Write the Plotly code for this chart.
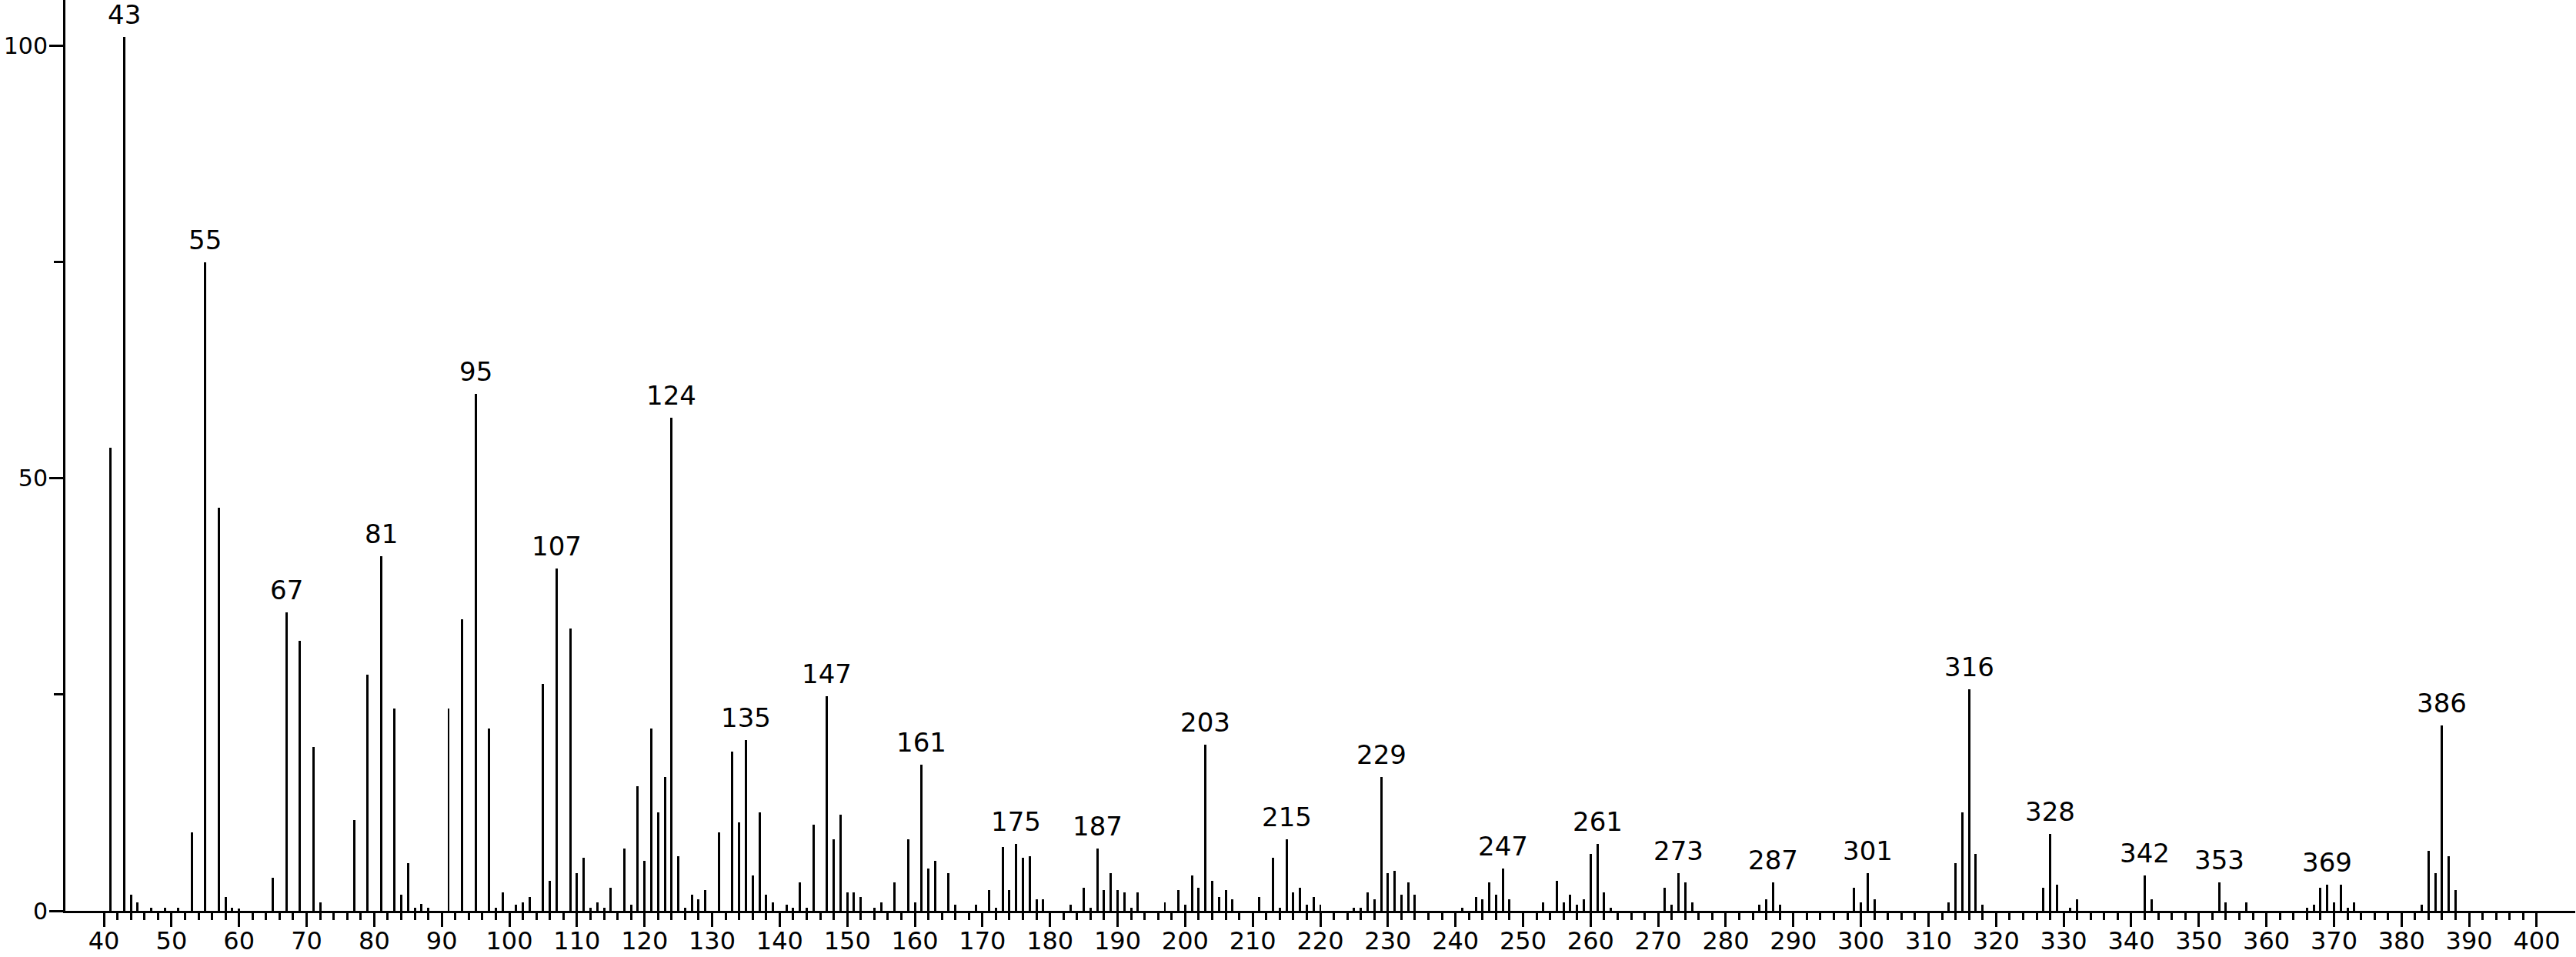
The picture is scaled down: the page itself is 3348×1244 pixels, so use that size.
"""Mass spectrum stick plot (EI, m/z 40-400)."""

import plotly.graph_objects as go

_INK = "black"
_FONT = "DejaVu Sans"

# m/z values and relative intensities (%)
mz = [
    41, 43, 44, 45, 47, 49, 51, 53, 55, 57, 58, 59, 60,
    65, 67, 69, 71, 72, 77, 79, 81, 83, 84, 85, 86, 87, 88,
    91, 93, 95, 97, 98, 99, 101, 102, 103, 105, 106, 107, 109,
    110, 111, 112, 113, 114, 115, 117, 118, 119, 120, 121, 122, 123,
    124, 125, 126, 127, 128, 129, 131, 133, 134, 135, 136, 137, 138,
    139, 141, 142, 143, 144, 145, 147, 148, 149, 150, 151, 152, 154,
    155, 157, 159, 160, 161, 162, 163, 165, 166, 169, 171, 172, 173,
    174, 175, 176, 177, 178, 179, 183, 185, 186, 187, 188, 189, 190,
    191, 192, 193, 197, 199, 200, 201, 202, 203, 204, 205, 206, 207,
    211, 213, 214, 215, 216, 217, 218, 219, 220, 225, 226, 227, 228,
    229, 230, 231, 232, 233, 234, 241, 243, 244, 245, 246, 247, 248,
    253, 255, 256, 257, 258, 259, 260, 261, 262, 263, 271, 272, 273,
    274, 275, 285, 286, 287, 288, 299, 300, 301, 302, 313, 314, 315,
    316, 317, 318, 327, 328, 329, 331, 332, 342, 343, 353, 354, 357,
    366, 367, 368, 369, 370, 371, 372, 373, 383, 384, 385, 386, 387, 388,
]
intensity = [
    53.5, 101.0, 1.9, 1.0, 0.4, 0.4, 0.4, 9.1, 75.0, 46.6, 1.6, 0.4, 0.3,
    3.8, 34.5, 31.2, 18.9, 1.0, 10.5, 27.3, 41.0, 23.4, 1.9, 5.5, 0.4, 0.8, 0.4,
    23.4, 33.7, 59.8, 21.1, 0.4, 2.1, 0.7, 1.0, 1.6, 26.2, 3.5, 39.6, 32.6,
    4.4, 6.1, 0.4, 1.0, 0.4, 2.7, 7.2, 0.7, 14.4, 5.8, 21.1, 11.4, 15.5,
    57.0, 6.3, 0.4, 1.9, 1.3, 2.4, 9.1, 18.4, 10.2, 19.7, 4.1, 11.4, 1.9,
    1.0, 0.7, 0.4, 3.3, 0.4, 10.0, 24.8, 8.3, 11.1, 2.1, 2.1, 1.6, 0.4,
    1.0, 3.3, 8.3, 1.0, 16.9, 4.9, 5.8, 4.4, 0.7, 0.7, 2.4, 0.4, 7.4,
    2.4, 7.7, 6.1, 6.3, 1.3, 1.3, 0.7, 2.7, 0.4, 7.2, 2.4, 4.4, 2.4,
    2.1, 0.4, 2.1, 1.0, 2.4, 0.7, 4.1, 2.7, 19.2, 3.5, 1.6, 2.4, 1.3,
    1.6, 6.1, 0.4, 8.3, 2.1, 2.7, 0.7, 1.6, 0.7, 0.4, 0.4, 2.1, 1.3,
    15.5, 4.4, 4.6, 1.9, 3.3, 1.9, 0.4, 1.6, 1.3, 3.3, 1.9, 4.9, 1.3,
    1.0, 3.5, 1.0, 1.9, 0.7, 1.3, 6.6, 7.7, 2.1, 0.4, 2.7, 0.7, 4.4,
    3.3, 1.0, 0.7, 1.3, 3.3, 0.7, 2.7, 1.0, 4.4, 1.3, 1.0, 5.5, 11.4,
    25.6, 6.6, 0.7, 2.7, 8.9, 3.0, 0.4, 1.3, 4.1, 1.3, 3.3, 1.0, 1.0,
    0.4, 0.7, 2.7, 3.0, 1.0, 3.0, 0.4, 1.0, 0.7, 6.9, 4.4, 21.4, 6.3, 2.4,
]

# peaks carrying an m/z label
labeled_mz = [
    43, 55, 67, 81, 95, 107, 124, 135, 147, 161, 175, 187, 203,
    215, 229, 247, 261, 273, 287, 301, 316, 328, 342, 353, 369, 386,
]

x_ticks = list(range(40, 401, 10))
x_minor = [v for v in range(42, 400, 2) if v % 10]

fig = go.Figure()
fig.add_trace(go.Bar(
    x=mz,
    y=intensity,
    width=0.34,
    marker=dict(color=_INK, line_width=0),
    showlegend=False,
    hoverinfo="x+y",
))

for m in labeled_mz:
    fig.add_annotation(
        x=m, y=intensity[mz.index(m)],
        text=str(m),
        showarrow=False,
        xanchor="center", yanchor="bottom",
        yshift=7,
        font=dict(family=_FONT, size=34, color=_INK),
    )

fig.update_layout(
    width=3348, height=1244,
    margin=dict(l=85, r=1, t=0, b=60),
    paper_bgcolor="white",
    plot_bgcolor="white",
    bargap=0,
    font=dict(family=_FONT, size=34, color=_INK),
)
fig.update_xaxes(
    range=[34.3, 405.7],
    automargin=False,
    tickmode="array", tickvals=x_ticks,
    ticks="outside", ticklen=18, tickwidth=3, tickcolor=_INK,
    minor=dict(tickmode="array", tickvals=x_minor, ticks="outside",
               ticklen=9, tickwidth=3, tickcolor=_INK),
    showline=True, linewidth=3, linecolor=_INK,
    showgrid=False, zeroline=False,
    ticklabelstandoff=-9,
    tickfont=dict(family=_FONT, size=32, color=_INK),
)
fig.update_yaxes(
    range=[0, 105.3],
    automargin=False,
    tickmode="array", tickvals=[0, 50, 100],
    ticks="outside", ticklen=18, tickwidth=3, tickcolor=_INK,
    minor=dict(tickmode="array", tickvals=[25, 75], ticks="outside",
               ticklen=12, tickwidth=3, tickcolor=_INK),
    showline=True, linewidth=3, linecolor=_INK,
    showgrid=False, zeroline=False,
    ticklabelstandoff=-4,
    tickfont=dict(family=_FONT, size=30, color=_INK),
)

# the page body has an 8px default margin; drop it so the figure sits at 0,0
fig.write_html(
    "out.html",
    config={"displayModeBar": False},
    post_script="document.body.style.margin = '0';",
)
